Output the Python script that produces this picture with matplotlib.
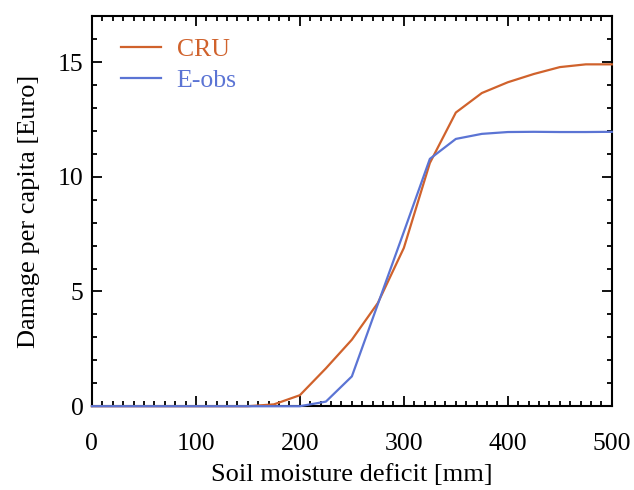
import matplotlib.pyplot as plt
from matplotlib.ticker import MultipleLocator

# Damage per capita vs soil moisture deficit
deficit = [0, 25, 50, 75, 100, 125, 150, 175, 200, 225, 250, 275, 300, 325, 350, 375, 400, 425, 450, 475, 500]
cru = [0, 0, 0, 0, 0, 0, 0, 0.08, 0.48, 1.65, 2.9, 4.5, 6.9, 10.6, 12.8, 13.65, 14.12, 14.48, 14.78, 14.9, 14.9]
eobs = [0, 0, 0, 0, 0, 0, 0, 0, 0, 0.2, 1.3, 4.45, 7.6, 10.78, 11.65, 11.87, 11.95, 11.96, 11.95, 11.95, 11.96]

plt.rcParams['font.family'] = ['Liberation Serif', 'DejaVu Serif']

fig = plt.figure(figsize=(6.34, 4.9), dpi=100)
ax = fig.add_axes([0.145, 0.171, 0.82, 0.796])

orange = '#d0622c'
blue = '#5b74d4'
ax.plot(deficit, cru, color=orange, lw=1.6, label='CRU', clip_on=False, zorder=4)
ax.plot(deficit, eobs, color=blue, lw=1.6, label='E-obs', clip_on=False, zorder=5)

ax.set_xlim(0, 500)
ax.set_ylim(0, 17)
ax.xaxis.set_major_locator(MultipleLocator(100))
ax.xaxis.set_minor_locator(MultipleLocator(10))
ax.yaxis.set_major_locator(MultipleLocator(5))
ax.yaxis.set_minor_locator(MultipleLocator(1))
ax.tick_params(which='both', direction='in', top=True, right=True, width=1.3, colors='black')
ax.tick_params(which='major', length=7)
ax.tick_params(which='minor', length=3.5)
ax.tick_params(axis='x', which='major', labelsize=18.5, pad=19)
ax.tick_params(axis='y', which='major', labelsize=18.5, pad=6)
for s in ax.spines.values():
    s.set_linewidth(1.5)

ax.set_xlabel('Soil moisture deficit [mm]', fontsize=19, labelpad=7)
ax.set_ylabel('Damage per capita [Euro]', fontsize=19, labelpad=13)

leg = ax.legend(loc='upper left', bbox_to_anchor=(0, 1.02), frameon=False, fontsize=18.5,
                handlelength=1.55, handletextpad=0.6, labelspacing=0.3, borderaxespad=0.85,
                borderpad=0.3, labelcolor='linecolor')

fig.savefig('out.png', dpi=100)
